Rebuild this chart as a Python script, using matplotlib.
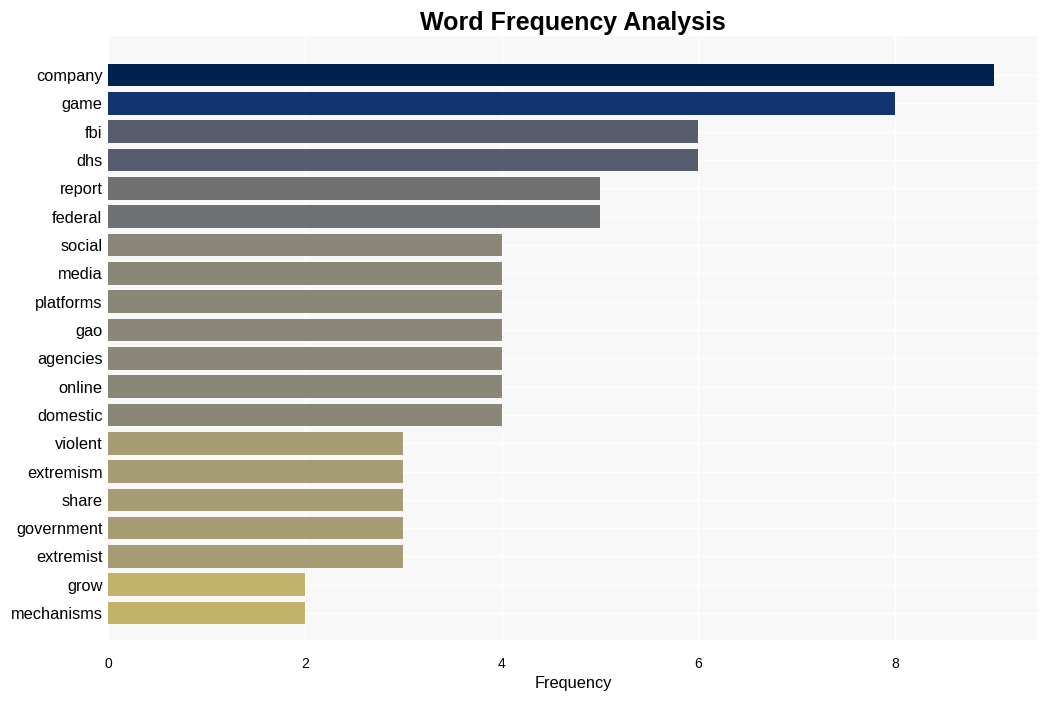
import matplotlib
matplotlib.use("Agg")
import matplotlib.pyplot as plt
import numpy as np

words = ["company", "game", "fbi", "dhs", "report", "federal", "social", "media",
         "platforms", "gao", "agencies", "online", "domestic", "violent", "extremism",
         "share", "government", "extremist", "grow", "mechanisms"]
counts = [9, 8, 6, 6, 5, 5, 4, 4, 4, 4, 4, 4, 4, 3, 3, 3, 3, 3, 2, 2]
color_by_count = {9: "#00224e", 8: "#123570", 6: "#575d6d", 5: "#707173",
                  4: "#8a8678", 3: "#a59c74", 2: "#c3b369"}

plt.rcParams['font.family'] = ['Liberation Sans', 'DejaVu Sans']
fig = plt.figure(figsize=(10.48, 7.01), dpi=100)
ax = fig.add_axes([108/1048, 1-640/701, (1038-108)/1048, (640-36)/701])
ax.set_facecolor("#f8f8f8")
y = np.arange(len(words))
ax.barh(y, counts, height=0.8, color=[color_by_count[c] for c in counts], zorder=3)
ax.set_yticks(y)
ax.set_yticklabels(words, fontsize=11.8)
ax.set_ylim(19.95, -1.38)
ax.set_xlim(0, 9.45)
ax.set_xticks([0, 2, 4, 6, 8])
ax.tick_params(axis='x', labelsize=10, length=0, pad=12)
ax.tick_params(axis='y', length=0, pad=4)
ax.grid(True, color="white", linewidth=1, zorder=0)
for s in ax.spines.values():
    s.set_visible(False)
ax.set_xlabel("Frequency", fontsize=11.8, labelpad=4)
ax.set_title("Word Frequency Analysis", fontsize=18, fontweight="bold", pad=4)
fig.savefig("out.png", dpi=100, facecolor="white")
